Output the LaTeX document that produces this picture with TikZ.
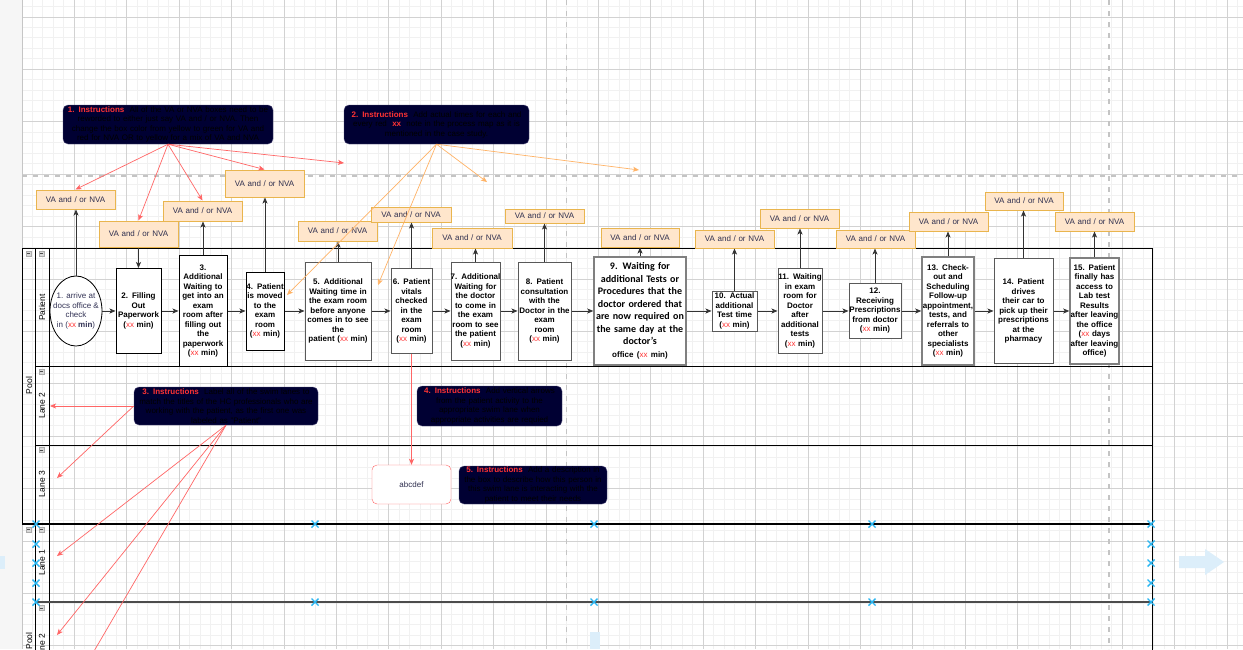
\documentclass[tikz,border=0pt]{standalone}
\usepackage{fontspec}
\setmainfont{Liberation Sans}
\newfontfamily\calibfont{Carlito}
\usepackage{xcolor}
\usetikzlibrary{arrows.meta,shapes.geometric}

\definecolor{vafill}{HTML}{FFE6CC}
\definecolor{vaedge}{HTML}{E9B54E}
\definecolor{vatext}{HTML}{2F2F4F}
\definecolor{insfill}{HTML}{000033}
\definecolor{insedge}{HTML}{56517E}
\definecolor{insred}{HTML}{FF3333}
\definecolor{xxred}{HTML}{FF3333}
\definecolor{redln}{HTML}{FF6666}
\definecolor{orgln}{HTML}{FFB366}
\definecolor{selblue}{HTML}{29B6F2}
\definecolor{gridmaj}{HTML}{D2D2D2}
\definecolor{gridmin}{HTML}{F1F1F1}
\definecolor{pagebrk}{HTML}{C4C4C4}
\definecolor{hintblue}{HTML}{DCEEFA}
\definecolor{sidegray}{HTML}{F6F6F6}
\definecolor{connc}{HTML}{333333}
\definecolor{ovaltext}{HTML}{333355}

\newcommand{\xx}{\textcolor{xxred}{\mdseries xx}}
\newcommand{\instr}[1]{\textcolor{insred}{\bfseries #1}}

\begin{document}
\begin{tikzpicture}[x=1pt, y=-1pt,
  proc/.style={draw=black!65, fill=white, line width=1pt, align=center, inner sep=0pt, font=\bfseries\fontsize{8}{9.5}\selectfont},
  boxwh/.code 2 args={\pgfmathsetmacro\boxtw{#1+12}\tikzset{minimum width=#1pt, minimum height=#2pt, text width=\boxtw pt, inner xsep=-6pt}},
  va/.style={draw=vaedge, fill=vafill, line width=1pt, align=center, inner sep=0pt, text=vatext, font=\fontsize{8}{9.5}\selectfont},
  ins/.style={draw=insedge, fill=insfill, rounded corners=5pt, align=center, inner sep=0pt, text=black, font=\fontsize{8}{9.5}\selectfont},
  desc/.style={draw=redln, fill=white, rounded corners=5pt, align=center, inner sep=0pt, text=vatext, font=\fontsize{8}{9.5}\selectfont},
  lanelbl/.style={rotate=90, inner sep=0pt, font=\fontsize{8.5}{10}\selectfont},
  lane/.style={draw=black, line width=0.9pt},
  conn/.style={-{Stealth[length=6pt,width=5pt,inset=1.5pt]}, draw=connc, line width=0.8pt},
  redarr/.style={-{Stealth[length=6pt,width=5pt,inset=1.5pt]}, draw=redln, line width=0.7pt},
  orgarr/.style={-{Stealth[length=6pt,width=5pt,inset=1.5pt]}, draw=orgln, line width=0.7pt},
  selx/.style={draw=selblue, line width=1.4pt},
  minorln/.style={draw=gridmin, line width=0.8pt},
  majorln/.style={draw=gridmaj, line width=0.7pt},
  brk/.style={draw=pagebrk, line width=1.6pt, dash pattern=on 5pt off 6pt}
]
\useasboundingbox (0,0) rectangle (1243,649);
\clip (0,0) rectangle (1243,649);

% canvas and grid
\fill[white] (0,0) rectangle (1243,649);
\fill[sidegray] (0,0) rectangle (22,649);
\foreach \k in {1,...,116} \draw[minorln] ({21.9+10.48*\k},0) -- ({21.9+10.48*\k},649);
\foreach \k in {0,...,61} \draw[minorln] (22,{6.42+10.48*\k}) -- (1243,{6.42+10.48*\k});
\foreach \k in {1,...,23} \draw[majorln] ({21.9+52.4*\k},0) -- ({21.9+52.4*\k},649);
\foreach \k in {0,...,12} \draw[majorln] (22,{16.9+52.4*\k}) -- (1243,{16.9+52.4*\k});
\draw[gray!45] (21.7,0) -- (21.7,649);

% page breaks
\draw[brk] (22,176) -- (1243,176);
\draw[brk] (566.5,0) -- (566.5,649);
\draw[brk] (1108.7,0) -- (1108.7,649);

% hints
\fill[hintblue] (1179,556) -- (1205,556) -- (1205,549) -- (1224,562) -- (1205,575) -- (1205,568) -- (1179,568) -- cycle;
\fill[hintblue] (590,632) rectangle (600,649);
\fill[hintblue] (0,556) rectangle (5,569);

% pool 1
\draw[lane] (22,248) rectangle (1152,523);
\draw[lane] (35,248) -- (35,523);
\draw[lane] (49,248) -- (49,523);
\draw[lane] (35,366.7) -- (1152,366.7);
\draw[lane] (35,445) -- (1152,445);
% pool 2
\draw[lane, line width=1.3pt] (22,524) -- (1152,524);
\draw[lane] (35,524) -- (35,660);
\draw[lane] (49,524) -- (49,660);
\draw[lane] (1152,524) -- (1152,660);
\draw[lane, draw=black!70, line width=1.2pt] (35,602) -- (1152,602);

\node[lanelbl] (pool1) at (29,385.5) {Pool};
\node[lanelbl] (lnpat) at (42,307.5) {Patient};
\node[lanelbl] (ln2) at (42,405.5) {Lane 2};
\node[lanelbl] (ln3) at (42,484) {Lane 3};
\node[lanelbl] (pool2) at (29,641) {Pool};
\node[lanelbl] (ln1b) at (42,562.5) {Lane 1};
\node[lanelbl] (ln2b) at (42,647) {Lane 2};

% collapse icons
\foreach \cx/\cy in {28.7/253.5, 41.7/253.5, 41.7/371.5, 41.7/450, 28.7/529.3, 41.7/529.3, 41.7/608} {
  \draw[fill=gray!30, draw=gray!65, line width=0.4pt] (\cx-2.7,\cy-2.5) rectangle (\cx+2.7,\cy+2.5);
  \draw[black!70, line width=0.6pt] (\cx-1.5,\cy) -- (\cx+1.5,\cy);
}

% patient activities
\node[ellipse, draw=black, fill=white, line width=0.8pt, minimum width=52pt, minimum height=70pt, inner sep=0pt,
  label={[align=center, text=ovaltext, font=\fontsize{8}{9.5}\selectfont]center:{1. arrive at\\docs office \&\\check\\in (\xx\ \textbf{min})}}] (p1) at (76,311) {};
\node[proc, draw=black, boxwh={45}{85}] (p2) at (138.5,311) {2. Filling\\Out\\Paperwork\\(\xx\ min)};
\node[proc, draw=black, boxwh={48}{111}] (p3) at (203,311) {3.\\Additional\\Waiting to\\get into an\\exam\\room after\\filling out\\the\\paperwork\\(\xx\ min)};
\node[proc, draw=black, boxwh={38}{78}] (p4) at (265,311) {4. Patient\\is moved\\to the\\exam\\room\\(\xx\ min)};
\node[proc, boxwh={66}{98}] (p5) at (338,311) {5. Additional\\Waiting time in\\the exam room\\before anyone\\comes in to see\\the\\patient (\xx\ min)};
\node[proc, boxwh={41}{85}] (p6) at (411.5,311) {6. Patient\\vitals\\checked\\in the\\exam\\room\\(\xx\ min)};
\node[proc, boxwh={49}{98}] (p7) at (475.5,311) {7. Additional\\Waiting for\\the doctor\\to come in\\the exam\\room to see\\the patient\\(\xx\ min)};
\node[proc, boxwh={53}{98}] (p8) at (544.5,311) {8. Patient\\consultation\\with the\\Doctor in the\\exam\\room\\(\xx\ min)};
\node[proc, draw=black!50, line width=1.5pt, boxwh={92}{108}, font=\calibfont\bfseries\fontsize{10}{12.5}\selectfont] (p9) at (640,311) {9. Waiting for\\additional Tests or\\Procedures that the\\doctor ordered that\\are now required on\\the same day at the\\doctor’s\\{\rmfamily\bfseries\fontsize{8}{9.5}\selectfont office (\xx\ min)}};
\node[proc, boxwh={45}{40}] (p10) at (734.5,311) {10. Actual\\additional\\Test time\\(\xx\ min)};
\node[proc, boxwh={44}{85}] (p11) at (800,311) {11. Waiting\\in exam\\room for\\Doctor\\after\\additional\\tests\\(\xx\ min)};
\node[proc, boxwh={52}{55}] (p12) at (875,311) {12.\\Receiving\\Prescriptions\\from doctor\\(\xx\ min)};
\node[proc, draw=black!50, line width=1.5pt, boxwh={52}{108}] (p13) at (948,311) {13. Check-\\out and\\Scheduling\\Follow-up\\appointment,\\tests, and\\referrals to\\other\\specialists\\(\xx\ min)};
\node[proc, boxwh={59}{105}] (p14) at (1023.5,311) {14. Patient\\drives\\their car to\\pick up their\\prescriptions\\at the\\pharmacy};
\node[proc, draw=black!50, line width=1.5pt, boxwh={49}{106}] (p15) at (1094.5,311) {15. Patient\\finally has\\access to\\Lab test\\Results\\after leaving\\the office\\(\xx\ days\\after leaving\\office)};

% VA / NVA tags
\node[va, boxwh={79}{19}] (va1) at (75.5,199.5) {VA and / or NVA};
\node[va, boxwh={79}{26}] (va2) at (138.5,234) {VA and / or NVA};
\node[va, boxwh={79}{20}] (va3) at (202.5,211) {VA and / or NVA};
\node[va, boxwh={79}{27}] (va4) at (264.5,183.5) {VA and / or NVA};
\node[va, boxwh={79}{20}] (va5) at (337.5,231) {VA and / or NVA};
\node[va, boxwh={80}{15}] (va6) at (411,214.5) {VA and / or NVA};
\node[va, boxwh={80}{20}] (va7) at (472,238) {VA and / or NVA};
\node[va, boxwh={79}{14}] (va8) at (544.5,216) {VA and / or NVA};
\node[va, boxwh={78}{19}] (va9) at (640,237.5) {VA and / or NVA};
\node[va, boxwh={79}{18}] (va10) at (734.5,239) {VA and / or NVA};
\node[va, boxwh={79}{19}] (va11) at (799.5,218.5) {VA and / or NVA};
\node[va, boxwh={79}{18}] (va12) at (875.5,239) {VA and / or NVA};
\node[va, boxwh={79}{19}] (va13) at (948.5,221.5) {VA and / or NVA};
\node[va, boxwh={78}{18}] (va14) at (1024,201) {VA and / or NVA};
\node[va, boxwh={79}{19}] (va15) at (1094.5,221.5) {VA and / or NVA};

% instructions
\node[ins, boxwh={210}{39}] (ins1) at (168,124.5) {\instr{1. Instructions}\ \ All of the VA or NVA boxes need to be\\reworded to either just say VA and / or NVA. Then\\change the box color from yellow to green for VA and\\red for NVA OR to yellow for a mix of VA and NVA};
\node[ins, boxwh={185}{39}] (ins2) at (436.5,124.5) {\instr{2. Instructions}\ \ Add actual times for each and\\every red \ \instr{xx}\ \ note in the process map as it is\\mentioned in the case study.};
\node[ins, boxwh={184}{38}] (ins3) at (226,406) {\instr{3. Instructions}\ \ Label all of the swim lanes to\\match the titles of the HC professionals who are\\working with the patient, as the first one was\\labeled as "Patient"};
\node[ins, boxwh={145}{40}] (ins4) at (489.5,406) {\instr{4. Instructions}\ \ Add vertical arrows\\from the patient activity to the\\appropriate swim lane when\\appropriate activities are requied};
\node[desc, boxwh={79}{39}] (abc) at (411.5,484.5) {abcdef};
\node[ins, boxwh={148}{38}] (ins5) at (533,485) {\instr{5. Instructions}\ \ Add a description in\\the box to describe how this person in\\this swim lane is interacting with the\\patient to meet their needs};

% flow
\draw[conn] (p1) -- (p2);
\draw[conn] (p2) -- (p3);
\draw[conn] (p3) -- (p4);
\draw[conn] (p4) -- (p5);
\draw[conn] (p5) -- (p6);
\draw[conn] (p6) -- (p7);
\draw[conn] (p7) -- (p8);
\draw[conn] (p8) -- (p9);
\draw[conn] (p9) -- (p10);
\draw[conn] (p10) -- (p11);
\draw[conn] (p11) -- (p12);
\draw[conn] (p12) -- (p13);
\draw[conn] (p13) -- (p14);
\draw[conn] (p14) -- (p15);

% tags
\draw[conn] (p1.north) -- (p1.north |- va1.south);
\draw[conn] (va2.south) -- (p2.north);
\draw[conn] (p3.north) -- (p3.north |- va3.south);
\draw[conn] (p4.north) -- (p4.north |- va4.south);
\draw[conn] (p5.north) -- (p5.north |- va5.south);
\draw[conn] (p6.north) -- (p6.north |- va6.south);
\draw[conn] (p7.north) -- (p7.north |- va7.south);
\draw[conn] (p8.north) -- (p8.north |- va8.south);
\draw[conn] (p9.north) -- (p9.north |- va9.south);
\draw[conn] (p10.north) -- (p10.north |- va10.south);
\draw[conn] (p11.north) -- (p11.north |- va11.south);
\draw[conn] (p12.north) -- (p12.north |- va12.south);
\draw[conn] (p13.north) -- (p13.north |- va13.south);
\draw[conn] (p14.north) -- (p14.north |- va14.south);
\draw[conn] (p15.north) -- (p15.north |- va15.south);

% instruction pointers
\coordinate (f1) at (344,163);
\coordinate (f2) at (487,182);
\coordinate (f3) at (639,170);
\coordinate (f4) at (287,295);
\coordinate (f5) at (378,285);
\coordinate (f6) at (50,406);
\coordinate (f7) at (57,478);
\coordinate (f8) at (57,556);
\coordinate (f9) at (57,635);
\coordinate (f10) at (83,670);
\draw[redarr] (ins1.south) -- (va1.north);
\draw[redarr] (ins1.south) -- (va2.north);
\draw[redarr] (ins1.south) -- (va3.north);
\draw[redarr] (ins1.south) -- (va4.north);
\draw[redarr] (ins1.south) -- (f1);
\draw[orgarr] (ins2.south) -- (f2);
\draw[orgarr] (ins2.south) -- (f3);
\draw[orgarr] (ins2.south) -- (f4);
\draw[orgarr] (ins2.south) -- (f5);
\draw[redarr] (ins3.west) -- (f6);
\draw[redarr] (ins3.west) -- (f7);
\draw[redarr] (ins3.south) -- (f8);
\draw[redarr] (ins3.south) -- (f9);
\draw[redarr] (ins3.south) -- (f10);
\draw[redarr] (p6) -- (abc);

% selection handles
\foreach \sx/\sy in {36/524, 315/524, 594/524, 872/524, 1151/524, 36/602, 315/602, 594/602, 872/602, 1151/602, 36/544, 36/563, 36/583, 1151/544, 1151/563, 1151/583}
  \draw[selx] (\sx-3.5,\sy-3.5) -- (\sx+3.5,\sy+3.5) (\sx-3.5,\sy+3.5) -- (\sx+3.5,\sy-3.5);
\end{tikzpicture}
\end{document}
